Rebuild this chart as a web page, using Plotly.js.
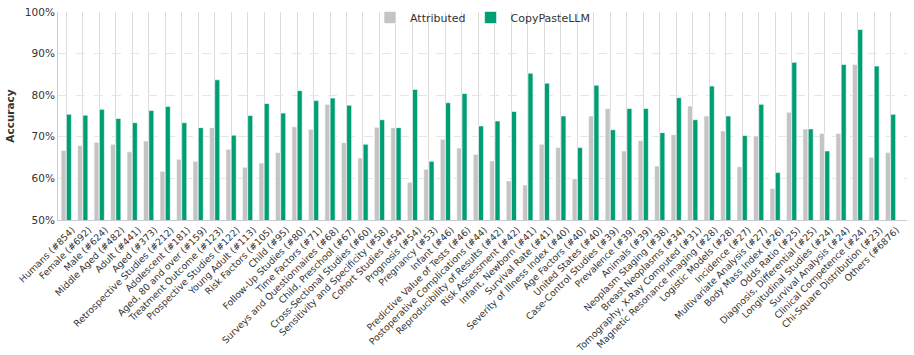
<!DOCTYPE html>
<html>
<head>
<meta charset="utf-8">
<script src="https://cdn.plot.ly/plotly-3.0.1.min.js"></script>
<style>
  html, body { margin: 0; padding: 0; background: #fff; }
  #chart { width: 914px; height: 355px; }
</style>
</head>
<body>
<div id="chart"></div>
<script>
var categories = [
  'Humans (#854)', 'Female (#692)', 'Male (#624)', 'Middle Aged (#482)', 'Adult (#441)',
  'Aged (#373)', 'Retrospective Studies (#212)', 'Adolescent (#181)', 'Aged, 80 and over (#159)',
  'Treatment Outcome (#123)', 'Prospective Studies (#122)', 'Young Adult (#113)', 'Risk Factors (#105)',
  'Child (#95)', 'Follow-Up Studies (#80)', 'Time Factors (#71)', 'Surveys and Questionnaires (#68)',
  'Child, Preschool (#67)', 'Cross-Sectional Studies (#60)', 'Sensitivity and Specificity (#58)',
  'Cohort Studies (#54)', 'Prognosis (#54)', 'Pregnancy (#53)', 'Infant (#46)',
  'Predictive Value of Tests (#46)', 'Postoperative Complications (#44)',
  'Reproducibility of Results (#42)', 'Risk Assessment (#42)', 'Infant, Newborn (#41)',
  'Survival Rate (#41)', 'Severity of Illness Index (#40)', 'Age Factors (#40)',
  'United States (#40)', 'Case-Control Studies (#39)', 'Prevalence (#39)', 'Animals (#39)',
  'Neoplasm Staging (#38)', 'Breast Neoplasms (#34)', 'Tomography, X-Ray Computed (#31)',
  'Magnetic Resonance Imaging (#28)', 'Logistic Models (#28)', 'Incidence (#27)',
  'Multivariate Analysis (#27)', 'Body Mass Index (#26)', 'Odds Ratio (#25)',
  'Diagnosis, Differential (#25)', 'Longitudinal Studies (#24)', 'Survival Analysis (#24)',
  'Clinical Competence (#24)', 'Chi-Square Distribution (#23)', 'Others (#6876)'
];

// accuracy in %
var attributed = [
  66.7, 67.9, 68.7, 68.2, 66.4, 69.0, 61.7, 64.6, 64.1,
  72.2, 67.0, 62.7, 63.7, 66.2, 72.4, 71.8, 77.8, 68.6,
  64.9, 72.3, 72.2, 59.1, 62.2, 69.4, 67.3, 65.8, 64.2,
  59.4, 58.4, 68.2, 67.4, 59.9, 75.0, 76.8, 66.6, 69.1,
  63.0, 70.5, 77.4, 75.0, 71.4, 62.8, 70.2, 57.6,
  75.9, 71.9, 70.8, 70.8, 87.4, 65.1, 66.2
];
var copyPaste = [
  75.4, 75.2, 76.6, 74.4, 73.4, 76.3, 77.3, 73.4, 72.2,
  83.7, 70.4, 75.1, 78.0, 75.7, 81.1, 78.7, 79.3, 77.6,
  68.2, 74.1, 72.2, 81.4, 64.1, 78.2, 80.4, 72.6, 73.8,
  76.1, 85.3, 82.9, 75.0, 67.4, 82.4, 71.7, 76.8, 76.8,
  71.0, 79.4, 74.1, 82.2, 75.0, 70.3, 77.8, 61.4,
  87.9, 71.9, 66.6, 87.4, 95.8, 87.0, 75.4
];

var trace1 = {
  x: categories,
  y: attributed,
  name: 'Attributed',
  type: 'bar',
  marker: { color: '#c4c4c4', line: { color: '#ffffff', width: 0.6 } },
  hoverinfo: 'x+y'
};
var trace2 = {
  x: categories,
  y: copyPaste,
  name: 'CopyPasteLLM',
  type: 'bar',
  marker: { color: '#009e73', line: { color: '#ffffff', width: 0.6 } },
  hoverinfo: 'x+y'
};

var layout = {
  width: 914,
  height: 355,
  margin: { l: 58, r: 7, t: 3, b: 135 },
  paper_bgcolor: '#ffffff',
  plot_bgcolor: '#ffffff',
  font: { family: 'DejaVu Sans', color: '#333333', size: 10 },
  barmode: 'group',
  bargap: 0.36,
  bargroupgap: 0.05,
  showlegend: true,
  legend: {
    orientation: 'h',
    x: 0.5, xanchor: 'center',
    y: 1, yanchor: 'top',
    font: { size: 11, color: '#333333' },
    bgcolor: 'rgba(255,255,255,0)',
    itemwidth: 30
  },
  xaxis: {
    type: 'category',
    range: [-0.5, 51],
    tickangle: -45,
    tickfont: { size: 9.3, color: '#333333' },
    ticklabelshift: 6,
    ticklabelstandoff: 0,
    showgrid: true,
    gridcolor: '#dcdcdc',
    gridwidth: 1,
    showline: true,
    linecolor: '#cccccc',
    linewidth: 1,
    ticks: '',
    automargin: false,
    fixedrange: true
  },
  yaxis: {
    domain: [0, 0.9585],
    range: [50, 100],
    dtick: 10,
    ticksuffix: '%',
    tickfont: { size: 10.5, color: '#333333' },
    title: { text: '<b>Accuracy</b>', font: { size: 10.5, color: '#333333' }, standoff: 8 },
    showgrid: true,
    gridcolor: '#e6e6e6',
    griddash: 'dash',
    gridwidth: 1,
    showline: true,
    linecolor: '#cccccc',
    linewidth: 1,
    zeroline: false,
    ticks: '',
    automargin: false,
    fixedrange: true
  }
};

Plotly.newPlot('chart', [trace1, trace2], layout, { displayModeBar: false, staticPlot: true });
</script>
</body>
</html>
